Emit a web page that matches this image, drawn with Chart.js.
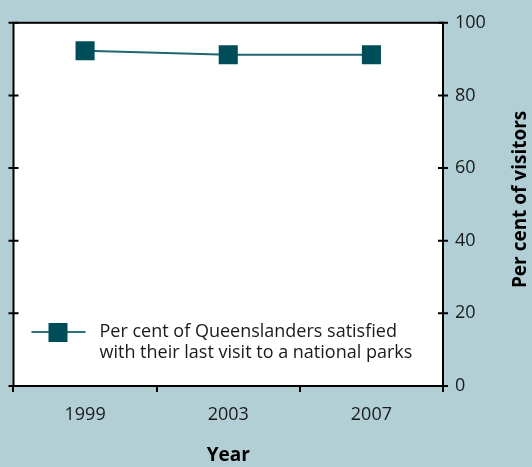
<!DOCTYPE html>
<html><head><meta charset="utf-8">
<script src="https://cdn.jsdelivr.net/npm/chart.js@4"></script>
<style>html,body{margin:0;padding:0;background:#b2cfd5;}#wrap{width:532px;height:467px;}</style>
</head><body><div id="wrap"><canvas id="c" width="532" height="467"></canvas></div>
<script>
const years = ['1999', '2003', '2007'];
const satisfied = [92.3, 91.2, 91.2];
const yTicks = [0, 20, 40, 60, 80, 100];
const seriesLabel = ['Per cent of Queenslanders satisfied', 'with their last visit to a national parks'];
const xTitle = 'Year';
const yTitle = 'Per cent of visitors';

const FONT = '"Open Sans","Noto Sans",sans-serif';
const teal = '#004d5a';

const decor = {
  id: 'decor',
  beforeDraw(chart) {
    const {ctx, chartArea: a} = chart;
    ctx.save();
    ctx.fillStyle = '#fff';
    ctx.fillRect(a.left, a.top, a.right - a.left, a.bottom - a.top);
    ctx.restore();
  },
  afterDraw(chart) {
    const {ctx, chartArea: a, scales} = chart;
    ctx.save();
    ctx.strokeStyle = '#000';
    ctx.lineWidth = 2;
    ctx.strokeRect(a.left, a.top, a.right - a.left, a.bottom - a.top);
    yTicks.forEach(v => {
      const y = scales.y.getPixelForValue(v);
      ctx.beginPath();
      ctx.moveTo(a.left - 5, y); ctx.lineTo(a.left + 5, y);
      ctx.moveTo(a.right - 5, y); ctx.lineTo(a.right + 5, y);
      ctx.stroke();
    });
    ctx.fillStyle = '#000';
    ctx.font = 'bold 19px ' + FONT;
    ctx.textAlign = 'center';
    ctx.textBaseline = 'middle';
    ctx.translate(521, (a.top + a.bottom) / 2 - 5);
    ctx.rotate(-Math.PI / 2);
    ctx.fillText(yTitle, 0, 0);
    ctx.restore();
    ctx.save();
    const lx = a.left + 18, ly = a.bottom - 54;
    ctx.strokeStyle = '#2e6e78';
    ctx.lineWidth = 2;
    ctx.beginPath(); ctx.moveTo(lx, ly); ctx.lineTo(lx + 54, ly); ctx.stroke();
    ctx.fillStyle = teal;
    ctx.fillRect(lx + 17, ly - 9, 19, 19);
    ctx.fillStyle = '#1a1a1a';
    ctx.font = '18px ' + FONT;
    ctx.textAlign = 'left';
    ctx.textBaseline = 'middle';
    ctx.fillText(seriesLabel[0], lx + 68, ly);
    ctx.fillText(seriesLabel[1], lx + 68, ly + 21);
    ctx.restore();
  }
};

new Chart(document.getElementById('c'), {
  type: 'line',
  data: {
    labels: years,
    datasets: [{
      data: satisfied,
      borderColor: '#1f6470',
      borderWidth: 2,
      pointStyle: 'rect',
      pointRadius: 13.5,
      pointHoverRadius: 13.5,
      pointBackgroundColor: teal,
      pointBorderColor: teal,
      pointBorderWidth: 0,
      tension: 0
    }]
  },
  options: {
    responsive: false,
    animation: false,
    devicePixelRatio: 1,
    layout: {padding: {left: 13, top: 21, right: 0, bottom: 0}},
    plugins: {legend: {display: false}, tooltip: {enabled: false}},
    scales: {
      x: {
        offset: true,
        grid: {offset: true, drawOnChartArea: false, color: '#000', lineWidth: 2, tickLength: 6},
        border: {display: false},
        ticks: {color: '#1a1a1a', font: {family: FONT, size: 18}, padding: 12},
        title: {display: true, text: xTitle, color: '#000', font: {family: FONT, size: 19, weight: 'bold'}, padding: {top: 7, bottom: 0}},
        afterFit(s) { s.height = 81; }
      },
      y: {
        position: 'right',
        min: 0, max: 100,
        afterBuildTicks(s) { s.ticks = yTicks.map(v => ({value: v})); },
        grid: {display: false, drawTicks: false},
        border: {display: false},
        ticks: {color: '#1a1a1a', font: {family: FONT, size: 18}, padding: 12},
        afterFit(s) { s.width = 89; }
      }
    }
  },
  plugins: [decor]
});
</script>
</body></html>
